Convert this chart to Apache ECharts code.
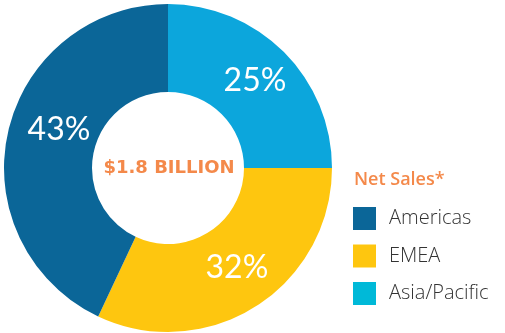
<!DOCTYPE html>
<html>
<head>
<meta charset="utf-8">
<script src="https://cdn.jsdelivr.net/npm/echarts@6/dist/echarts.min.js"></script>
<style>
  html, body { margin: 0; padding: 0; background: #ffffff; }
  #chart { width: 505px; height: 333px; }
</style>
</head>
<body>
<div id="chart"></div>
<script>
// Regions listed clockwise from 12 o'clock
const regions = ['Asia/Pacific', 'EMEA', 'Americas'];
const shares = [25, 32, 43];
const sliceColors = ['#0ca6dc', '#fec60f', '#0b6698'];
// Legend reads top to bottom
const legendOrder = ['Americas', 'EMEA', 'Asia/Pacific'];
const legendColors = ['#0b6698', '#fec60f', '#00b9d8'];
const totalLabel = '$1.8 BILLION';
const legendTitle = 'Net Sales*';

const chart = echarts.init(document.getElementById('chart'), null, { renderer: 'canvas' });

const pieData = regions.map((name, i) => ({
  name: name,
  value: shares[i],
  itemStyle: { color: sliceColors[i] }
}));

chart.setOption({
  animation: false,
  backgroundColor: '#ffffff',
  title: {
    text: legendTitle,
    left: 354,
    top: 171,
    padding: 0,
    textStyle: {
      fontFamily: 'Open Sans',
      fontSize: 18,
      fontWeight: 600,
      color: '#f4894a'
    }
  },
  legend: {
    orient: 'vertical',
    left: 353,
    top: 207,
    padding: 0,
    itemWidth: 23,
    itemHeight: 23,
    itemGap: 14.5,
    icon: 'rect',
    selectedMode: false,
    data: legendOrder.map((name, i) => ({
      name: name,
      itemStyle: { color: legendColors[i] }
    })),
    textStyle: {
      fontFamily: 'Open Sans',
      fontSize: 20,
      fontWeight: 300,
      color: '#333333',
      padding: [0, 0, 0, 8]
    }
  },
  graphic: [{
    type: 'text',
    z: 100,
    x: 169,
    y: 168,
    style: {
      text: totalLabel,
      fontFamily: 'DejaVu Sans',
      fontSize: 18,
      fontWeight: 'bold',
      fill: '#f4894a',
      textAlign: 'center',
      textVerticalAlign: 'middle'
    }
  }],
  series: [{
    type: 'pie',
    center: [168, 168],
    radius: [76, 164],
    startAngle: 90,
    clockwise: true,
    silent: true,
    data: pieData,
    label: {
      show: true,
      position: 'inside',
      formatter: '{c}%',
      fontFamily: 'Lato',
      fontSize: 32,
      fontWeight: 'normal',
      color: '#ffffff'
    },
    labelLine: { show: false },
    labelLayout: function (params) {
      if (params.dataIndex === 2) return { dx: 11, dy: -11 };
      if (params.dataIndex === 1) return { dx: 3, dy: -4 };
      return {};
    }
  }]
});
</script>
</body>
</html>
